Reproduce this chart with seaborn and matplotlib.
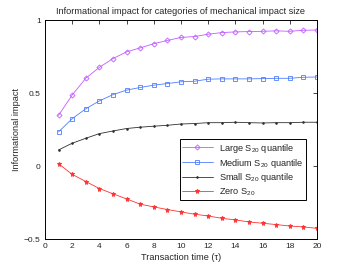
import matplotlib
matplotlib.use("Agg")
import matplotlib.pyplot as plt
import seaborn as sns
import pandas as pd

# values
tau = list(range(1, 21))
large = [0.347, 0.486, 0.601, 0.676, 0.736, 0.782, 0.809, 0.838, 0.860, 0.881,
         0.887, 0.903, 0.914, 0.919, 0.921, 0.923, 0.926, 0.923, 0.930, 0.932]
medium = [0.234, 0.324, 0.392, 0.446, 0.489, 0.520, 0.538, 0.554, 0.565, 0.577,
          0.581, 0.595, 0.597, 0.597, 0.597, 0.599, 0.601, 0.601, 0.608, 0.610]
small = [0.110, 0.156, 0.190, 0.222, 0.240, 0.257, 0.266, 0.273, 0.279, 0.288,
         0.291, 0.297, 0.297, 0.300, 0.297, 0.295, 0.297, 0.297, 0.300, 0.300]
zero = [0.016, -0.057, -0.106, -0.154, -0.190, -0.225, -0.261, -0.280, -0.298, -0.314,
        -0.330, -0.342, -0.358, -0.369, -0.383, -0.392, -0.401, -0.411, -0.417, -0.427]

labels = ["Large S$_{20}$ quantile", "Medium S$_{20}$ quantile",
          "Small S$_{20}$ quantile", "Zero S$_{20}$"]
xticks = list(range(0, 21, 2))
yticks = [-0.5, 0, 0.5, 1]
ytick_labels = ["\u22120.5", "0", "0.5", "1"]

sns.set_style("white")
plt.rcParams["font.family"] = ["Liberation Sans", "DejaVu Sans"]
plt.rcParams["mathtext.default"] = "regular"

fig = plt.figure(figsize=(3.51, 2.71), dpi=100)
ax = fig.add_axes([0.128, 0.118, 0.775, 0.808])

series = [
    (large, "#c15cff", "D", 2.6, "none"),
    (medium, "#4f7dff", "s", 2.6, "none"),
    (small, "#303030", ".", 2.4, None),
    (zero, "#ff3333", "*", 3.6, None),
]
for (vals, color, mk, ms, mfc), lab in zip(series, labels):
    df = pd.DataFrame({"tau": tau, "impact": vals})
    kw = dict(markerfacecolor=mfc) if mfc else {}
    sns.lineplot(data=df, x="tau", y="impact", ax=ax, color=color, marker=mk,
                 markersize=ms, markeredgewidth=0.6, markeredgecolor=color,
                 linewidth=0.6, label=lab, **kw)

ax.set_xlim(0, 20)
ax.set_ylim(-0.5, 1)
ax.set_xticks(xticks)
ax.set_yticks(yticks)
ax.set_yticklabels(ytick_labels)
ax.tick_params(direction="in", length=3, width=0.6, labelsize=6,
               top=True, right=True, pad=3)
for s in ax.spines.values():
    s.set_linewidth(0.7)
    s.set_color("black")

ax.set_xlabel("Transaction time (\u03c4)", fontsize=6.6, labelpad=2)
ax.set_ylabel("Informational impact", fontsize=6.6, labelpad=2)
ax.set_title("Informational impact for categories of mechanical impact size",
             fontsize=6.6, pad=4)

leg = ax.legend(loc="upper right", bbox_to_anchor=(0.978, 0.478), fontsize=6.6,
                handlelength=3.3, fancybox=False, framealpha=1,
                borderpad=0.3, labelspacing=0.2, handletextpad=0.7)
leg.get_frame().set_edgecolor("black")
leg.get_frame().set_linewidth(0.7)

fig.savefig("out.png", dpi=100)
